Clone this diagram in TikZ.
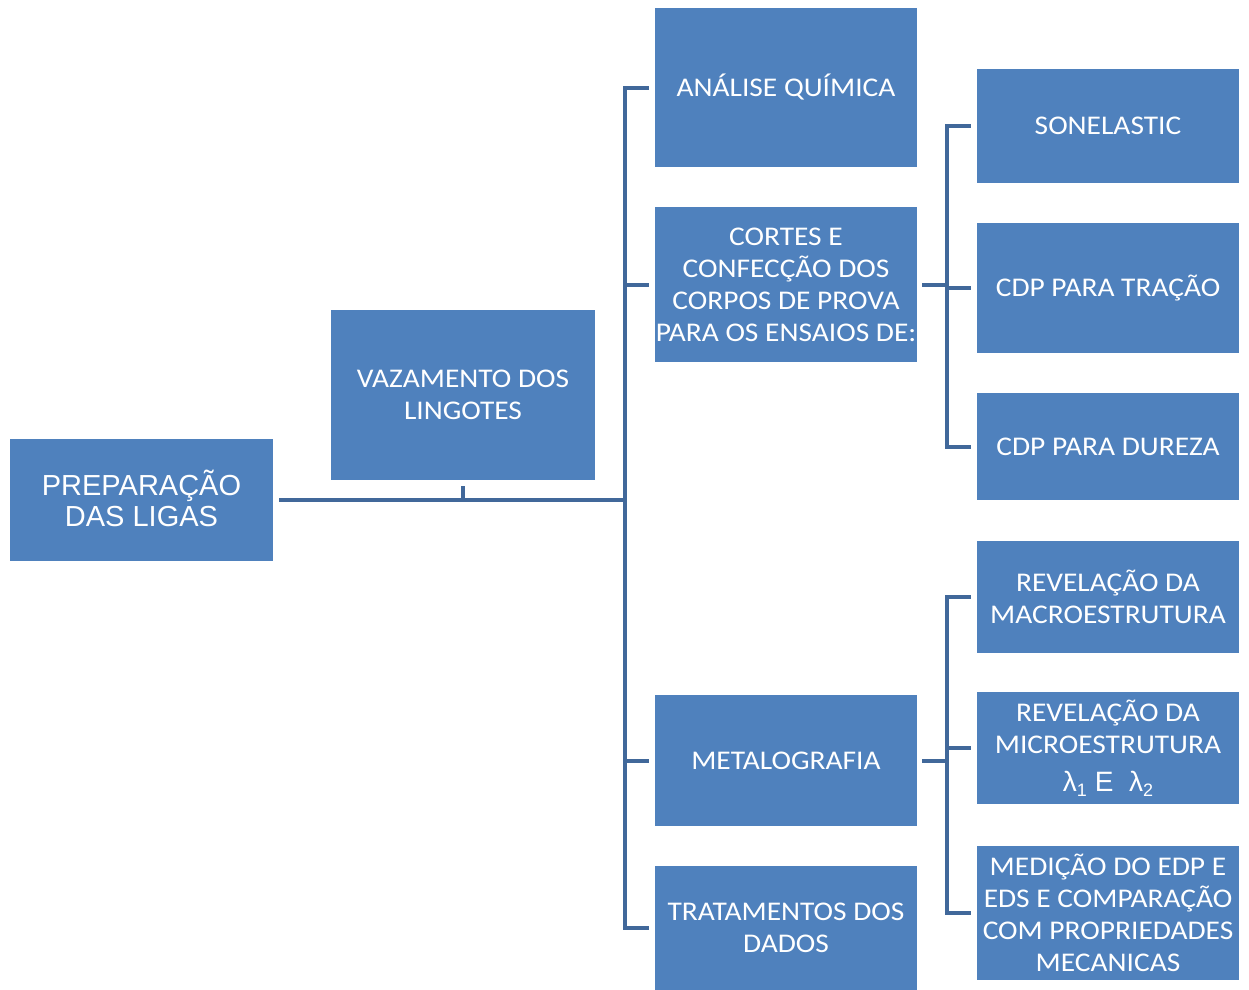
\documentclass[tikz,border=0pt]{standalone}
\usepackage{fontspec}
\setmainfont{Carlito}[FakeStretch=1.09]
\newfontfamily\arialf{Liberation Sans}
\definecolor{boxblue}{HTML}{4F81BD}
\definecolor{lineblue}{HTML}{41689A}
\newcommand{\lsub}[1]{\raisebox{-5pt}{\fontsize{18}{18}\selectfont #1}}
\begin{document}
\begin{tikzpicture}[x=1pt,y=-1pt,
  box/.style={draw=none, fill=boxblue, text=white, align=center, inner sep=0pt,
    font=\fontsize{27}{32}\selectfont},
  conn/.style={draw=lineblue, line width=4pt}]
\useasboundingbox (0,0) rectangle (1249,989);
% boxes
\node[box, minimum width=263pt, minimum height=122pt] (prep) at (141.5,500) {};
\node[text=white, align=center, inner sep=0pt, font=\arialf\fontsize{29}{31}\selectfont] (preptext) at (141.5,498) {PREPARAÇÃO\\DAS LIGAS};
\node[box, minimum width=264pt, minimum height=170pt] (vaz) at (463,395) {VAZAMENTO DOS\\LINGOTES};
\node[box, minimum width=262pt, minimum height=159pt] (ana) at (786,87.5) {ANÁLISE QUÍMICA};
\node[box, minimum width=262pt, minimum height=155pt] (cor) at (786,284.5) {CORTES E\\CONFECÇÃO DOS\\CORPOS DE PROVA\\PARA OS ENSAIOS DE:};
\node[box, minimum width=262pt, minimum height=131pt] (met) at (786,760.5) {METALOGRAFIA};
\node[box, minimum width=262pt, minimum height=124pt] (tra) at (786,928) {TRATAMENTOS DOS\\DADOS};
\node[box, minimum width=262pt, minimum height=114pt] (son) at (1108,126) {SONELASTIC};
\node[box, minimum width=262pt, minimum height=130pt] (tr) at (1108,288) {CDP PARA TRAÇÃO};
\node[box, minimum width=262pt, minimum height=107pt] (du) at (1108,446.5) {CDP PARA DUREZA};
\node[box, minimum width=262pt, minimum height=112pt] (mac) at (1108,597) {REVELAÇÃO DA\\MACROESTRUTURA};
\node[box, minimum width=262pt, minimum height=112pt] (mic) at (1108,748) {REVELAÇÃO DA\\MICROESTRUTURA\\[6pt]{\arialf\fontsize{28}{32}\selectfont λ\lsub{1} E\ \ λ\lsub{2}}};
\node[box, minimum width=262pt, minimum height=134pt] (med) at (1108,913) {MEDIÇÃO DO EDP E\\EDS E COMPARAÇÃO\\COM PROPRIEDADES\\MECANICAS};
% junctions
\coordinate (j1) at (625,500);
\coordinate (ja) at (625,87.5);
\coordinate (jt) at (625,928);
\coordinate (r1) at (947,284.5);
\coordinate (r1a) at (947,126);
\coordinate (r1b) at (947,446.5);
\coordinate (r2) at (947,760.5);
\coordinate (r2a) at (947,597);
\coordinate (r2b) at (947,913);
% connectors
\draw[conn] ([xshift=6pt]prep.east) -- (j1);
\draw[conn] ([yshift=-6pt]vaz.south) -- (vaz.south |- j1);
\draw[conn] ([xshift=-6pt]ana.west) -- (ja) -- (jt) -- ([xshift=-6pt]tra.west);
\draw[conn] (ja |- cor.west) -- ([xshift=-6pt]cor.west);
\draw[conn] (ja |- met.west) -- ([xshift=-6pt]met.west);
\draw[conn] ([xshift=5pt]cor.east) -- (r1);
\draw[conn] ([xshift=-6pt]son.west) -- (r1a) -- (r1b) -- ([xshift=-6pt]du.west);
\draw[conn] (r1 |- tr.west) -- ([xshift=-6pt]tr.west);
\draw[conn] ([xshift=5pt]met.east) -- (r2);
\draw[conn] ([xshift=-6pt]mac.west) -- (r2a) -- (r2b) -- ([xshift=-6pt]med.west);
\draw[conn] (r2 |- mic.west) -- ([xshift=-6pt]mic.west);
\end{tikzpicture}
\end{document}
